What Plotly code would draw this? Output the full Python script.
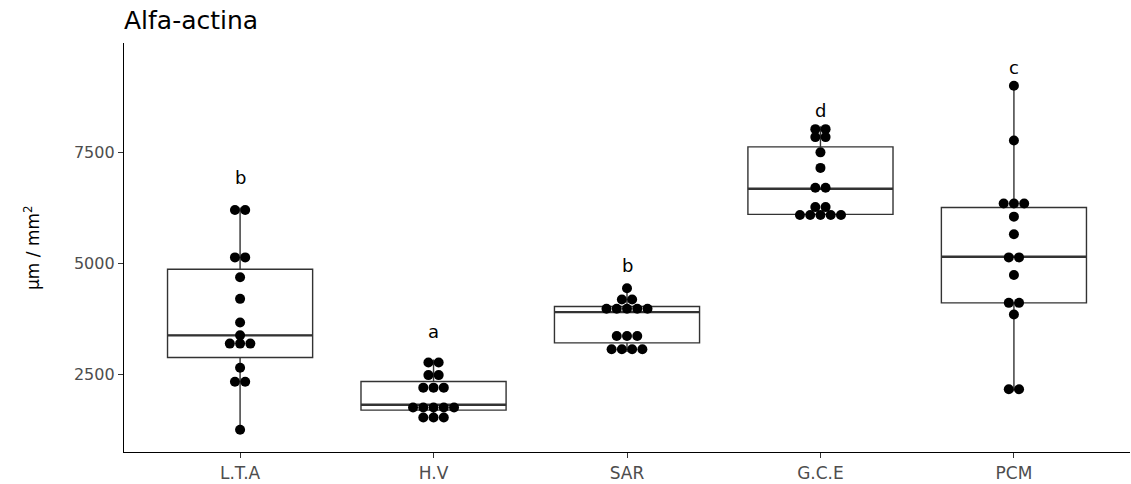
import numpy as np
import plotly.graph_objects as go

# ---------------- data ----------------
categories = ["L.T.A", "H.V", "SAR", "G.C.E", "PCM"]

lta = [1252, 2300, 2372, 2650, 3112, 3200, 3278, 3381, 3670, 4204, 4690, 5050, 5228, 6150, 6262]
hv = [1455, 1530, 1603, 1690, 1700, 1720, 1780, 1816, 2114, 2200, 2290, 2390, 2580, 2700, 2838]
sar = [3004, 3050, 3090, 3130, 3292, 3370, 3444, 3905, 3950, 3980, 4010, 4055, 4150, 4226, 4444]
gce = [6063, 6075, 6085, 6095, 6125, 6265, 6281, 6686, 6730, 7157, 7507, 7755, 7947, 7965, 8097]
pcm = [2120, 2208, 3852, 4060, 4168, 4742, 5126, 5152, 5661, 6058, 6260, 6270, 6452, 7776, 9009]

letters = ["b", "a", "b", "d", "c"]
letter_y = [6940, 3464, 4945, 8460, 9430]

y_ticks = [2500, 5000, 7500]

groups = [lta, hv, sar, gce, pcm]

# ---------------- styling constants ----------------
BINWIDTH = 200        # dot-density bin width (y units)
DOT_STEP = 0.053      # horizontal spacing of stacked dots (x units)
BOX_WIDTH = 0.75
LINE_COL = "#333333"
TICK_COL = "#4D4D4D"
FONT = "DejaVu Sans"


def dotdensity(values, bw):
    """ggplot2-like 'dotdensity' binning: returns (center, count) per bin."""
    v = sorted(values)
    bins = []
    end = -np.inf
    for x in v:
        if x >= end:
            bins.append([x])
            end = x + bw
        else:
            bins[-1].append(x)
    return [((b[0] + b[-1]) / 2.0, len(b)) for b in bins]


def box_stats(values):
    a = np.asarray(values, dtype=float)
    q1, med, q3 = np.percentile(a, [25, 50, 75])
    iqr = q3 - q1
    lo = a[a >= q1 - 1.5 * iqr].min()
    hi = a[a <= q3 + 1.5 * iqr].max()
    return q1, med, q3, lo, hi


fig = go.Figure()

for i, vals in enumerate(groups):
    xc = i + 1
    q1, med, q3, lo, hi = box_stats(vals)
    fig.add_trace(go.Box(
        x=[xc], q1=[q1], median=[med], q3=[q3], lowerfence=[lo], upperfence=[hi],
        width=BOX_WIDTH, whiskerwidth=0, boxpoints=False,
        fillcolor="white", line=dict(color=LINE_COL, width=1.4),
        hoverinfo="skip", showlegend=False,
    ))
    # thicker median line (ggplot fatten)
    fig.add_trace(go.Scatter(
        x=[xc - BOX_WIDTH / 2, xc + BOX_WIDTH / 2], y=[med, med], mode="lines",
        line=dict(color=LINE_COL, width=2.4), hoverinfo="skip", showlegend=False,
    ))

# dot plot (centered stacks)
for i, vals in enumerate(groups):
    xc = i + 1
    xs, ys = [], []
    for center, n in dotdensity(vals, BINWIDTH):
        for k in range(n):
            xs.append(xc + (k - (n - 1) / 2.0) * DOT_STEP)
            ys.append(center)
    fig.add_trace(go.Scatter(
        x=xs, y=ys, mode="markers",
        marker=dict(color="black", size=10, line=dict(width=0)),
        hoverinfo="skip", showlegend=False,
    ))

# significance letters
for i, (lab, yy) in enumerate(zip(letters, letter_y)):
    fig.add_annotation(x=i + 1, y=yy, text=lab, showarrow=False,
                       font=dict(family=FONT, size=18, color="black"),
                       xanchor="center", yanchor="middle")

# y-axis title
fig.add_annotation(xref="paper", yref="paper", x=-0.092, y=0.5,
                   text="µm / mm<sup>2</sup>", textangle=-90, showarrow=False,
                   font=dict(family=FONT, size=17, color="black"),
                   xanchor="center", yanchor="middle")

fig.update_layout(
    width=1131, height=484,
    margin=dict(l=124, r=1, t=43, b=30),
    paper_bgcolor="white", plot_bgcolor="white",
    title=dict(text="Alfa-actina", x=0, xref="paper", xanchor="left",
               y=1 - 20 / 484, yref="container", yanchor="middle",
               font=dict(family=FONT, size=25, color="black")),
    xaxis=dict(range=[0.4, 5.6], tickmode="array", tickvals=[1, 2, 3, 4, 5],
               ticktext=categories, showline=True, linecolor="black", linewidth=1.3,
               ticks="outside", ticklen=5, tickcolor=LINE_COL, tickwidth=1.2,
               showgrid=False, zeroline=False,
               tickfont=dict(family=FONT, size=17, color=TICK_COL)),
    yaxis=dict(range=[751, 9973], tickmode="array", tickvals=y_ticks,
               ticktext=[str(t) for t in y_ticks],
               showline=True, linecolor="black", linewidth=1.3,
               ticks="outside", ticklen=5, tickcolor=LINE_COL, tickwidth=1.2,
               showgrid=False, zeroline=False,
               tickfont=dict(family=FONT, size=16, color=TICK_COL)),
)

fig.write_html("out.html",
               config={"displayModeBar": False},
               post_script="document.body.style.margin='0';document.body.style.padding='0';")
